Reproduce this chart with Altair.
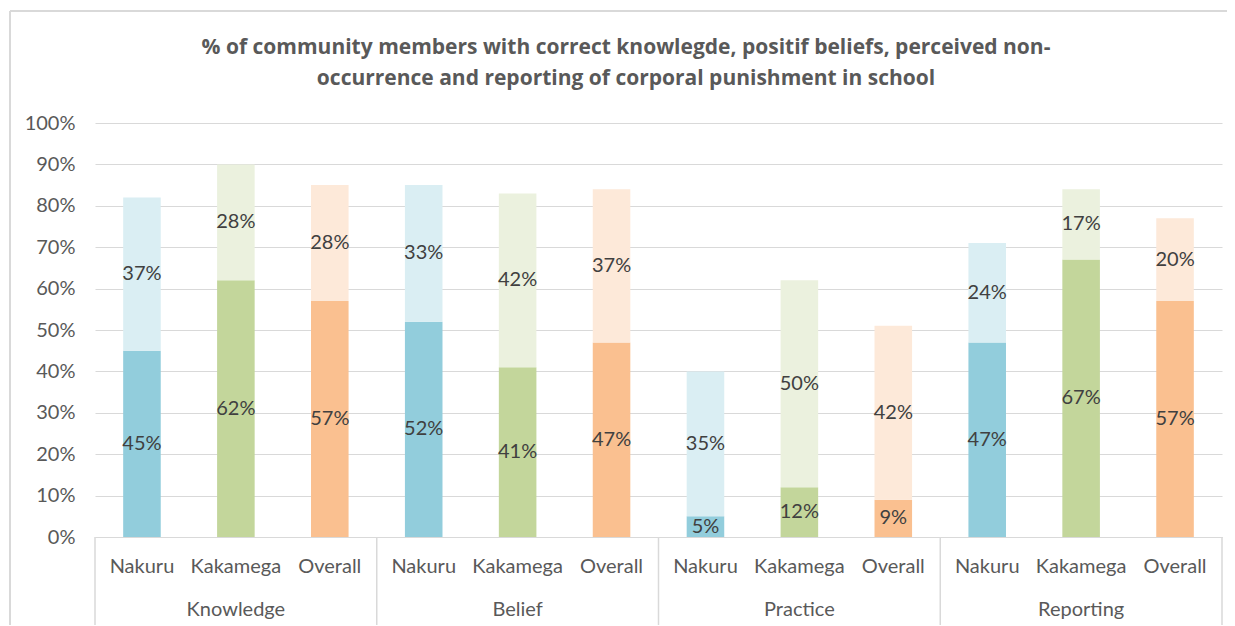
import altair as alt
import pandas as pd

groups = ["Knowledge", "Belief", "Practice", "Reporting"]
regions = ["Nakuru", "Kakamega", "Overall"]
base_vals = [[45, 62, 57], [52, 41, 47], [5, 12, 9], [47, 67, 57]]
top_vals = [[37, 28, 28], [33, 42, 37], [35, 50, 42], [24, 17, 20]]
y_ticks = [0, 10, 20, 30, 40, 50, 60, 70, 80, 90, 100]
title_lines = [
    "% of community members with correct knowlegde, positif beliefs, perceived non-",
    "occurrence and reporting of corporal punishment in school",
]

color_keys = ["Nakuru base", "Nakuru top", "Kakamega base", "Kakamega top", "Overall base", "Overall top"]
color_vals = ["#92CDDC", "#DAEEF3", "#C3D69B", "#EBF1DE", "#FAC090", "#FDE9D9"]

cats = [f"{g}|{r}" for g in groups for r in regions]

rows = []
for gi, g in enumerate(groups):
    for ri, r in enumerate(regions):
        b = base_vals[gi][ri]
        t = top_vals[gi][ri]
        cat = f"{g}|{r}"
        rows.append(dict(cat=cat, group=g, region=r, key=f"{r} base", lo=0, hi=b, val=b))
        rows.append(dict(cat=cat, group=g, region=r, key=f"{r} top", lo=b, hi=b + t, val=t))
df = pd.DataFrame(rows)
df["mid"] = (df["lo"] + df["hi"]) / 2
df["label"] = df["val"].astype(str) + "%"

grp_df = pd.DataFrame({"cat": [f"{g}|Kakamega" for g in groups], "group": groups})
sep_df = pd.DataFrame({"cat": [f"{g}|Nakuru" for g in groups]})
end_df = pd.DataFrame({"cat": [f"{groups[-1]}|Overall"]})
one_df = pd.DataFrame({"a": [0]})

W, H = 1127, 414
FONT = "Lato"
GRAY = "#595959"
LINE = "#D9D9D9"

xscale = alt.Scale(domain=cats, paddingInner=0, paddingOuter=0)
xaxis = alt.Axis(
    title=None,
    labelExpr="split(datum.label, '|')[1]",
    labelAngle=0,
    ticks=False,
    domainColor=LINE,
    labelPadding=19,
    labelFontSize=20,
    labelColor=GRAY,
    labelFont=FONT,
    grid=False,
)
yscale = alt.Scale(domain=[0, 100], nice=False)
yaxis = alt.Axis(
    title=None,
    values=y_ticks,
    labelExpr="datum.value + '%'",
    ticks=False,
    domain=False,
    gridColor=LINE,
    labelPadding=20,
    labelFontSize=20,
    labelColor=GRAY,
    labelFont=FONT,
)

bars = alt.Chart(df).mark_bar(width={"band": 0.4}).encode(
    x=alt.X("cat:N", scale=xscale, axis=xaxis),
    y=alt.Y("lo:Q", scale=yscale, axis=yaxis),
    y2="hi:Q",
    color=alt.Color("key:N", scale=alt.Scale(domain=color_keys, range=color_vals), legend=None),
)

labels = alt.Chart(df).mark_text(font=FONT, fontSize=20, color="#404040", baseline="middle").encode(
    x=alt.X("cat:N", scale=xscale, axis=xaxis),
    y=alt.Y("mid:Q", scale=yscale, axis=yaxis),
    text="label:N",
)

group_labels = alt.Chart(grp_df).mark_text(font=FONT, fontSize=20, color=GRAY, baseline="middle").encode(
    x=alt.X("cat:N", scale=xscale, axis=xaxis),
    y=alt.value(H + 73),
    text="group:N",
)

seps = alt.Chart(sep_df).mark_rule(color=LINE, strokeWidth=1.5).encode(
    x=alt.X("cat:N", scale=xscale, axis=xaxis, bandPosition=0),
    y=alt.value(H),
    y2=alt.value(H + 90),
)
end_sep = alt.Chart(end_df).mark_rule(color=LINE, strokeWidth=1.5).encode(
    x=alt.X("cat:N", scale=xscale, axis=xaxis, bandPosition=1),
    y=alt.value(H),
    y2=alt.value(H + 90),
)

border_left = alt.Chart(one_df).mark_rule(color=LINE, strokeWidth=2).encode(
    x=alt.value(-85), y=alt.value(-112), y2=alt.value(H + 100)
)
border_top = alt.Chart(one_df).mark_rule(color=LINE, strokeWidth=2).encode(
    x=alt.value(-85), x2=alt.value(W + 20), y=alt.value(-112)
)

title = alt.Chart(one_df).mark_text(
    text=title_lines,
    font="Open Sans",
    fontSize=21,
    fontWeight="bold",
    color=GRAY,
    align="center",
    baseline="alphabetic",
    lineHeight=31,
).encode(x=alt.value(531), y=alt.value(-69))

chart = alt.layer(border_left, border_top, title, bars, labels, seps, end_sep, group_labels).properties(
    width=W,
    height=H,
    autosize="none",
    padding={"left": 87, "top": 115, "right": 5, "bottom": 88},
).configure_view(stroke=None)

chart.save("out.html", embed_options={"renderer": "svg", "actions": False})
